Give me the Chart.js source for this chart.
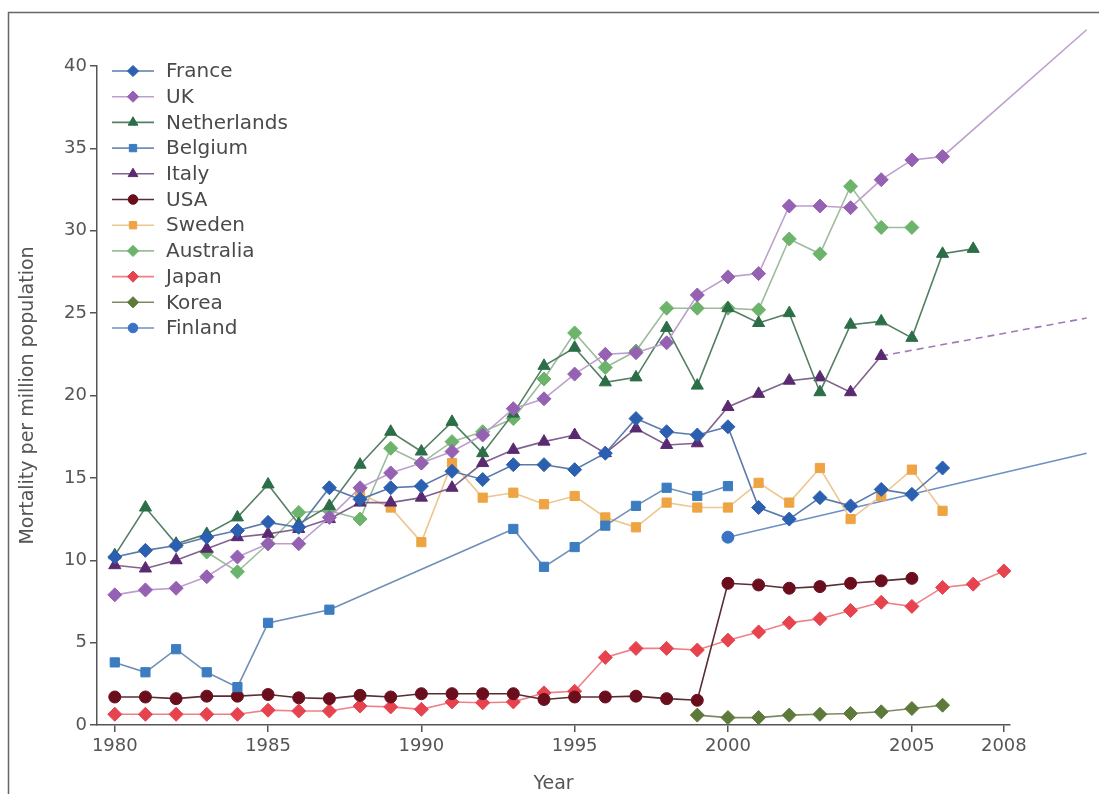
<!DOCTYPE html>
<html>
<head>
<meta charset="utf-8">
<script src="https://cdn.jsdelivr.net/npm/chart.js@4/dist/chart.umd.min.js"></script>
<style>
  html, body { margin: 0; background: #fff; }
  #wrap { position: relative; width: 1099px; height: 794px; }
</style>
</head>
<body>
<div id="wrap"><canvas id="chart" width="1099" height="794"></canvas></div>
<script>
// Années (position sur l'axe) — les libellés 2005/2008 tombent en réalité sur les positions 2006/2009
const years = [1980, 1981, 1982, 1983, 1984, 1985, 1986, 1987, 1988, 1989,
               1990, 1991, 1992, 1993, 1994, 1995, 1996, 1997, 1998, 1999,
               2000, 2001, 2002, 2003, 2004, 2005, 2006, 2007, 2008, 2009];
const farYear = 2011.7;

const tickValues = [1980, 1985, 1990, 1995, 2000, 2006, 2009];
const tickLabels = ['1980', '1985', '1990', '1995', '2000', '2005', '2008'];
const yTicks = [0, 5, 10, 15, 20, 25, 30, 35, 40];

// Séries (début = première année)
const france = [10.2, 10.6, 10.9, 11.4, 11.8, 12.3, 12.0, 14.4, 13.7, 14.4, 14.5, 15.4, 14.9, 15.8, 15.8,
                15.5, 16.5, 18.6, 17.8, 17.6, 18.1, 13.2, 12.5, 13.8, 13.3, 14.3, 14.0, 15.6];
const uk = [7.9, 8.2, 8.3, 9.0, 10.2, 11.0, 11.0, 12.6, 14.4, 15.3, 15.9, 16.6, 17.6, 19.2, 19.8,
            21.3, 22.5, 22.6, 23.2, 26.1, 27.2, 27.4, 31.5, 31.5, 31.4, 33.1, 34.3, 34.5];
const ukFar = 42.2;
const netherlands = [10.3, 13.2, 11.0, 11.6, 12.6, 14.6, 12.2, 13.3, 15.8, 17.8, 16.6, 18.4, 16.5, 18.9, 21.8,
                     22.9, 20.8, 21.1, 24.1, 20.6, 25.3, 24.4, 25.0, 20.2, 24.3, 24.5, 23.5, 28.6, 28.9];
const belgium = [3.8, 3.2, 4.6, 3.2, 2.3, 6.2, null, 7.0, null, null, null, null, null, 11.9, 9.6,
                 10.8, 12.1, 13.3, 14.4, 13.9, 14.5];
const italy = [9.7, 9.5, 10.0, 10.7, 11.4, 11.6, 11.9, 12.5, 13.5, 13.5, 13.8, 14.4, 15.9, 16.7, 17.2,
               17.6, 16.5, 18.0, 17.0, 17.1, 19.3, 20.1, 20.9, 21.1, 20.2, 22.4];
const italyFar = 24.7;
const usa = [1.7, 1.7, 1.6, 1.75, 1.75, 1.85, 1.65, 1.6, 1.8, 1.7, 1.9, 1.9, 1.9, 1.9, 1.55,
             1.7, 1.7, 1.75, 1.6, 1.5, 8.6, 8.5, 8.3, 8.4, 8.6, 8.75, 8.9];
const swedenStart = 1988;
const sweden = [14.0, 13.2, 11.1, 15.9, 13.8, 14.1, 13.4, 13.9, 12.6, 12.0, 13.5, 13.2, 13.2, 14.7,
                13.5, 15.6, 12.5, 13.9, 15.5, 13.0];
const australiaStart = 1983;
const australia = [10.5, 9.3, 11.0, 12.9, 13.0, 12.5, 16.8, 15.9, 17.2, 17.8, 18.6, 21.0, 23.8, 21.7,
                   22.7, 25.3, 25.3, 25.3, 25.2, 29.5, 28.6, 32.7, 30.2, 30.2];
const japan = [0.65, 0.65, 0.65, 0.65, 0.65, 0.9, 0.85, 0.85, 1.15, 1.1, 0.95, 1.4, 1.35, 1.4, 1.95,
               2.05, 4.1, 4.65, 4.65, 4.55, 5.15, 5.65, 6.2, 6.45, 6.95, 7.45, 7.2, 8.35, 8.55, 9.35];
const koreaStart = 1999;
const korea = [0.6, 0.45, 0.45, 0.6, 0.65, 0.7, 0.8, 1.0, 1.2];
const finlandStart = 2000;
const finland = [11.4];
const finlandFar = 16.5;

const FONT = '"DejaVu Sans", "Open Sans", sans-serif';
const AXIS = '#555';

/**
 * Construit les points {x, y} à partir d'une année de départ (les null sont sautés).
 */
function pts(start, values, far) {
    const i0 = years.indexOf(start);
    const out = [];
    values.forEach((v, i) => { if (v !== null) out.push({ x: years[i0 + i], y: v }); });
    if (far !== undefined) out.push({ x: farYear, y: far });
    return out;
}

function ds(label, data, marker, line, style, radius) {
    return {
        label, data,
        borderColor: line,
        backgroundColor: marker,
        borderWidth: 1.6,
        pointStyle: style,
        pointRadius: radius,
        pointBackgroundColor: marker,
        pointBorderColor: marker,
        pointBorderWidth: 1,
        tension: 0,
        clip: false,
    };
}

const italyData = pts(1980, italy, italyFar);

const datasets = [
    ds('France', pts(1980, france), '#2b5fb0', '#5b7aab', 'rectRot', 7),
    ds('UK', pts(1980, uk, ukFar), '#9561b3', '#bd9fce', 'rectRot', 7),
    ds('Netherlands', pts(1980, netherlands), '#2c6e47', '#547f62', 'triangle', 7),
    ds('Belgium', pts(1980, belgium), '#3c7cc0', '#6f8fb6', 'rect', 6.5),
    Object.assign(ds('Italy', italyData, '#5a2a70', '#80628f', 'triangle', 7), {
        segment: {
            borderDash: (c) => (c.p1DataIndex === italyData.length - 1 ? [7, 5] : undefined),
            borderColor: (c) => (c.p1DataIndex === italyData.length - 1 ? '#a07ab5' : undefined),
        },
    }),
    ds('USA', pts(1980, usa), '#6a0e1e', '#5a2c33', 'circle', 6),
    ds('Sweden', pts(swedenStart, sweden), '#eea443', '#efc68e', 'rect', 6.5),
    ds('Australia', pts(australiaStart, australia), '#6cb36b', '#9dbc9c', 'rectRot', 7),
    ds('Japan', pts(1980, japan), '#e6434f', '#ef8089', 'rectRot', 7),
    ds('Korea', pts(koreaStart, korea), '#5e7a3b', '#7c8b63', 'rectRot', 7),
    ds('Finland', pts(finlandStart, finland, finlandFar), '#3a72c4', '#6b90c6', 'circle', 6),
];

// Cadre + légende dessinée dans la zone du graphique
const overlay = {
    id: 'overlay',
    beforeDraw(chart) {
        const c = chart.ctx;
        c.save();
        c.strokeStyle = '#666';
        c.lineWidth = 1.5;
        c.strokeRect(8.5, 12.5, 2000, 2000);
        c.restore();
    },
    afterDraw(chart) {
        const c = chart.ctx;
        c.save();
        chart.data.datasets.forEach((d, i) => {
            const y = 71 + i * 25.7;
            c.strokeStyle = d.borderColor;
            c.lineWidth = 1.6;
            c.setLineDash([]);
            c.beginPath();
            c.moveTo(112, y);
            c.lineTo(154, y);
            c.stroke();
            c.fillStyle = d.pointBackgroundColor;
            c.strokeStyle = d.pointBorderColor;
            c.lineWidth = 1;
            Chart.helpers.drawPoint(c, { pointStyle: d.pointStyle, radius: d.pointRadius * 0.8, rotation: 0, borderWidth: 1 }, 133, y);
            c.fillStyle = '#4a4a4a';
            c.font = '20px ' + FONT;
            c.textBaseline = 'middle';
            c.textAlign = 'left';
            c.fillText(d.label, 166, y + 1);
        });
        c.restore();
    },
};

new Chart(document.getElementById('chart'), {
    type: 'line',
    data: { datasets },
    plugins: [overlay],
    options: {
        responsive: false,
        animation: false,
        devicePixelRatio: 1,
        layout: { padding: { left: 16, top: 66, right: 89, bottom: 0 } },
        plugins: { legend: { display: false }, tooltip: { enabled: false } },
        scales: {
            x: {
                type: 'linear',
                min: 1979.42,
                max: 2009.2,
                afterBuildTicks: (axis) => { axis.ticks = tickValues.map((v) => ({ value: v })); },
                afterFit: (s) => { s.height = 69; },
                border: { color: AXIS, width: 1.5 },
                grid: { drawOnChartArea: false, color: AXIS, lineWidth: 1.5, tickLength: 7 },
                ticks: {
                    color: AXIS,
                    font: { family: FONT, size: 18 },
                    padding: 4,
                    maxRotation: 0,
                    callback: (v) => tickLabels[tickValues.indexOf(v)],
                },
                title: { display: true, text: 'Year', color: AXIS, font: { family: FONT, size: 19, lineHeight: 1 }, padding: { top: 0, bottom: 0 } },
            },
            y: {
                min: 0,
                max: 40,
                afterBuildTicks: (axis) => { axis.ticks = yTicks.map((v) => ({ value: v })); },
                afterFit: (s) => { s.width = 81; },
                border: { color: AXIS, width: 1.5 },
                grid: { drawOnChartArea: false, color: AXIS, lineWidth: 1.5, tickLength: 7 },
                ticks: { color: AXIS, font: { family: FONT, size: 18 }, padding: 3 },
                title: { display: true, text: 'Mortality per million population', color: AXIS, font: { family: FONT, size: 19, lineHeight: 1.1 }, padding: { top: 2, bottom: 0 } },
            },
        },
    },
});
</script>
</body>
</html>
